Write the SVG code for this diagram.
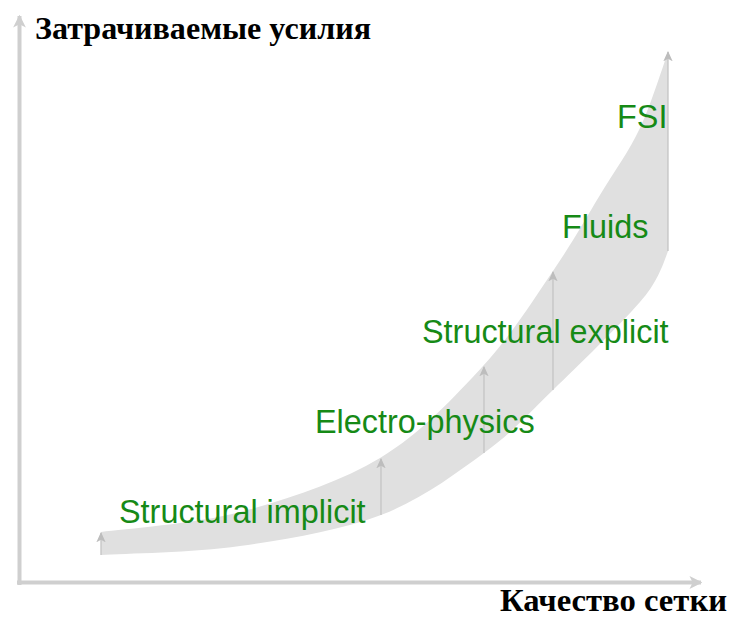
<svg xmlns="http://www.w3.org/2000/svg" width="730" height="617" viewBox="0 0 730 617">
<defs>
<style>
.axis{stroke:#cfcfcf;stroke-width:4;fill:none}
.tick{stroke:#c4c4c4;stroke-width:1.3;fill:none}
.band{fill:#e0e0e0}
.lbl{font-family:"Liberation Sans",Arial,sans-serif;font-size:32.4px;fill:#168a16}
.ttl{font-family:"Liberation Serif","Times New Roman",serif;font-size:32px;font-weight:bold;fill:#000}
</style>
<marker id="ah" viewBox="0 0 10 10" refX="9" refY="5" markerWidth="3.2" markerHeight="3.2" orient="auto" markerUnits="strokeWidth">
<path d="M0,0 L10,5 L0,10 L2.5,5 Z" fill="#cfcfcf"/>
</marker>
<marker id="sh" viewBox="0 0 10 10" refX="9" refY="5" markerWidth="8" markerHeight="8" orient="auto" markerUnits="strokeWidth">
<path d="M0,0.5 L10,5 L0,9.5 L2.5,5 Z" fill="#bdbdbd"/>
</marker>
</defs>
<rect width="730" height="617" fill="#ffffff"/>
<g id="band">
<path class="band" d="M101,555 C124.2,553.5 193.3,552.7 240,546 C286.7,539.3 340.3,530.5 381,515 C421.7,499.5 455.3,473.8 484,453 C512.7,432.2 526.5,415.5 553,390 C579.5,364.5 618,327 640,302 C658,282 664,262 668,251 L668,52 C663.3,64.7 651.3,104.2 640,128 C628.7,151.8 614.5,171.2 600,195 C585.5,218.8 572.5,242.5 553,271 C533.5,299.5 511.8,334.8 483,366 C454.2,397.2 420.5,433.7 380,458 C339.5,482.3 286.5,499.7 240,512 C193.5,524.3 124.2,528.7 101,532 Z"/>
</g>
<g id="connectors">
<line class="axis" x1="19.5" y1="585" x2="19.5" y2="16" marker-end="url(#ah)"/>
<line class="axis" x1="17" y1="582.5" x2="701" y2="582.5" marker-end="url(#ah)"/>
<line class="tick" x1="101" y1="555" x2="101" y2="533" marker-end="url(#sh)"/>
<line class="tick" x1="381" y1="515" x2="381" y2="459" marker-end="url(#sh)"/>
<line class="tick" x1="484" y1="453" x2="484" y2="367" marker-end="url(#sh)"/>
<line class="tick" x1="553" y1="390" x2="553" y2="272" marker-end="url(#sh)"/>
<line class="tick" x1="668" y1="251" x2="668" y2="52" marker-end="url(#sh)"/>
</g>
<g id="axis-y-label"><text class="ttl" x="35" y="39" textLength="336" lengthAdjust="spacingAndGlyphs">Затрачиваемые усилия</text></g>
<g id="axis-x-label"><text class="ttl" x="500" y="611" textLength="227" lengthAdjust="spacingAndGlyphs">Качество сетки</text></g>
<g id="structural-implicit"><text class="lbl" x="119" y="523">Structural implicit</text></g>
<g id="electro-physics"><text class="lbl" x="315" y="433">Electro-physics</text></g>
<g id="structural-explicit"><text class="lbl" x="422" y="343">Structural explicit</text></g>
<g id="fluids"><text class="lbl" x="562" y="238">Fluids</text></g>
<g id="fsi"><text class="lbl" x="617" y="128">FSI</text></g>
</svg>
